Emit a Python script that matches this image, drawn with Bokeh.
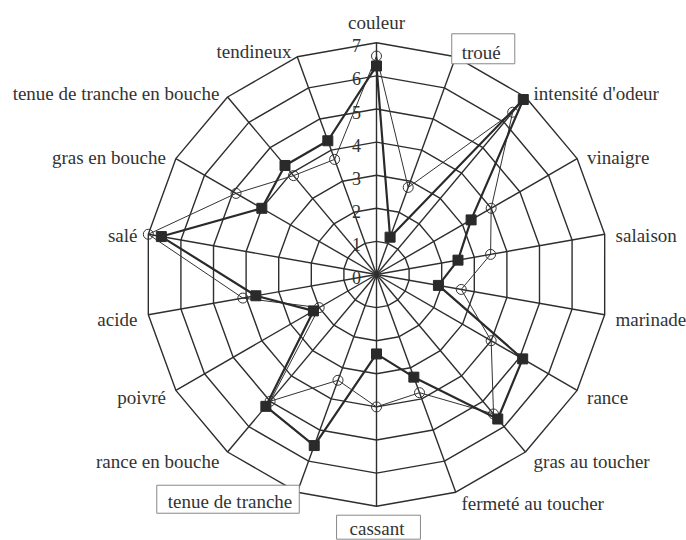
import numpy as np
from bokeh.plotting import figure
from bokeh.models import Range1d, ColumnDataSource
from bokeh.core.properties import value
from bokeh.embed import file_html
from bokeh.resources import INLINE

# ---- data ----
categories = ["couleur", "troué", "intensité d'odeur", "vinaigre", "salaison",
              "marinade", "rance", "gras au toucher", "fermeté au toucher",
              "cassant", "tenue de tranche", "rance en bouche", "poivré",
              "acide", "salé", "gras en bouche", "tenue de tranche en bouche",
              "tendineux"]
series_a = [6.3, 1.2, 6.9, 3.3, 2.5, 1.9, 5.1, 5.7, 3.3, 2.4, 5.5, 5.2, 2.2,
            3.7, 6.6, 4.0, 4.3, 4.3]
series_b = [6.6, 2.8, 6.4, 4.0, 3.5, 2.6, 4.0, 5.5, 3.8, 4.0, 3.4, 5.0, 2.0,
            4.1, 7.0, 4.9, 3.9, 3.7]
ring_values = [1, 2, 3, 4, 5, 6, 7]
tick_labels = ["0", "1", "2", "3", "4", "5", "6", "7"]
boxed = ["troué", "tenue de tranche", "cassant"]

FONT = value("Liberation Serif")

# ---- geometry ----
W, H = 686, 540
CX, CY = 376, 274          # centre in pixels
S = 33.1                   # pixels per unit
n = len(categories)
ang = np.deg2rad(np.arange(n) * 360.0 / n)
ux, uy = np.sin(ang), np.cos(ang)
rmax = max(ring_values)

p = figure(width=W, height=H, output_backend="svg", toolbar_location=None,
           x_axis_type=None, y_axis_type=None, min_border=0,
           x_range=Range1d(-CX / S, (W - CX) / S),
           y_range=Range1d(-(H - CY) / S, CY / S))
p.outline_line_color = None
p.grid.visible = False
p.background_fill_color = "white"
p.border_fill_color = "white"

grid_col = "#2e2e2e"
# rings
rxs = [list(np.append(ux * r, ux[0] * r)) for r in ring_values]
rys = [list(np.append(uy * r, uy[0] * r)) for r in ring_values]
p.multi_line(rxs, rys, line_color=grid_col, line_width=1.4)
# spokes
p.segment(x0=np.zeros(n), y0=np.zeros(n), x1=ux * rmax, y1=uy * rmax,
          line_color=grid_col, line_width=1.4)

# series B (open circles, thin line)
bv = np.array(series_b)
p.line(np.append(ux * bv, ux[0] * bv[0]), np.append(uy * bv, uy[0] * bv[0]),
       line_color="#333333", line_width=1.0)
p.scatter(ux * bv, uy * bv, marker="circle", size=10, fill_color=None,
          line_color="#333333", line_width=1.0)

# series A (filled squares, thick line)
av = np.array(series_a)
p.line(np.append(ux * av, ux[0] * av[0]), np.append(uy * av, uy[0] * av[0]),
       line_color="#2a2a2a", line_width=2.2)
p.scatter(ux * av, uy * av, marker="square", size=10, fill_color="#2a2a2a",
          line_color="#2a2a2a")

# tick labels along the first axis
tv = np.arange(len(tick_labels))
p.text(x=ux[0] * tv, y=uy[0] * tv, text=tick_labels, x_offset=-20, y_offset=3,
       text_align="center", text_baseline="middle",
       text_font=FONT, text_font_size="18px", text_color="#333333")

# category labels
xo, yo, al = [], [], []
for i in range(n):
    s, c = ux[i], uy[i]
    if abs(s) < 0.01:
        al.append("center"); xo.append(0)
        yo.append(-20 if c > 0 else 27)
    else:
        al.append("left" if s > 0 else "right")
        xo.append((3 + 8 * abs(s)) * (1 if s > 0 else -1))
        yo.append(3 - 9 * c)

plain = [i for i in range(n) if categories[i] not in boxed]
src = ColumnDataSource(dict(
    x=[ux[i] * rmax for i in plain], y=[uy[i] * rmax for i in plain],
    t=[categories[i] for i in plain], xo=[xo[i] for i in plain],
    yo=[yo[i] for i in plain], al=[al[i] for i in plain]))
p.text(x="x", y="y", text="t", x_offset="xo", y_offset="yo", text_align="al",
       source=src, text_baseline="middle",
       text_font=FONT, text_font_size="19px", text_color="#333333")

box_style = {
    "troué": dict(xo=-4, yo=-8, pad=dict(left=10, right=14, top=8, bottom=1)),
    "tenue de tranche": dict(xo=2, yo=7, pad=dict(left=11, right=7, top=6, bottom=1)),
    "cassant": dict(xo=2, yo=21, pad=dict(left=13, right=16, top=3, bottom=0)),
}
for name in boxed:
    i = categories.index(name)
    st = box_style[name]
    p.text(x=[ux[i] * rmax], y=[uy[i] * rmax], text=[name],
           x_offset=st["xo"], y_offset=st["yo"], text_align=al[i],
           text_baseline="middle", text_font=FONT,
           text_font_size="19px", text_color="#333333",
           border_line_color="#888888", border_line_width=1,
           background_fill_color="white", padding=st["pad"])

open("out.html", "w").write(file_html(p, INLINE))
